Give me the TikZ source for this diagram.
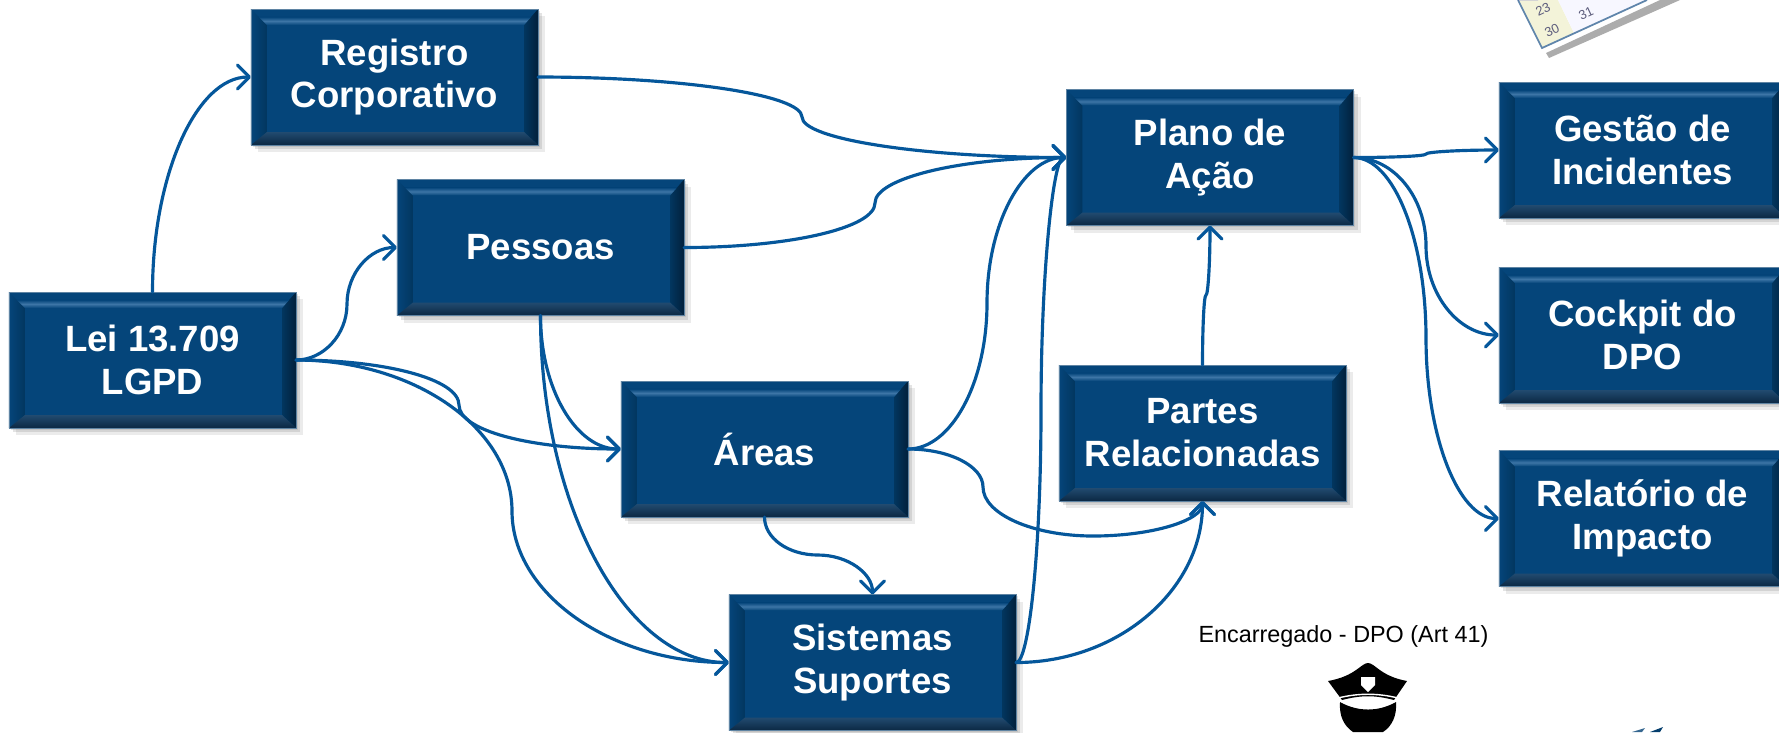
\documentclass[tikz,border=0pt]{standalone}
\usepackage{fontspec}
\setmainfont{Liberation Sans}
\usetikzlibrary{arrows.meta,calc,shadows}
\definecolor{boxblue}{HTML}{05457A}
\definecolor{boxlight}{HTML}{3D75A6}
\definecolor{boxleft}{HTML}{02365F}
\definecolor{boxright}{HTML}{02203B}
\definecolor{boxlow}{HTML}{0B2843}
\definecolor{boxedge}{HTML}{5F84A3}
\definecolor{linkblue}{HTML}{05579B}
\definecolor{calcream}{HTML}{F3F3D9}
\definecolor{caledge}{HTML}{5F85AB}
\definecolor{calnum}{HTML}{5C5C7C}
\tikzset{
   bevel/.code={},
   box/.style={rectangle, inner sep=0pt, outer sep=0pt, minimum width=2.87cm, minimum height=1.36cm,
      fill=boxblue, draw=boxedge, line width=.2pt, text=white, align=center,
      font=\bfseries\fontsize{10.4}{12.2}\selectfont,
      drop shadow={shadow xshift=.5pt, shadow yshift=-.5pt, opacity=.22},
      drop shadow={shadow xshift=1.2pt, shadow yshift=-1.2pt, opacity=.22},
      drop shadow={shadow xshift=2.1pt, shadow yshift=-2.1pt, opacity=.16},
      path picture={
         \coordinate (bnw) at (path picture bounding box.north west);
         \coordinate (bne) at (path picture bounding box.north east);
         \coordinate (bse) at (path picture bounding box.south east);
         \coordinate (bsw) at (path picture bounding box.south west);
         \coordinate (inw) at ($(bnw)+(.16cm,-.16cm)$);
         \coordinate (ine) at ($(bne)+(-.14cm,-.16cm)$);
         \coordinate (ise) at ($(bse)+(-.14cm,.13cm)$);
         \coordinate (isw) at ($(bsw)+(.16cm,.13cm)$);
         \shade[left color=boxblue, right color=boxleft] (bnw) -- (inw) -- (isw) -- (bsw) -- cycle;
         \shade[left color=boxleft, right color=boxright] (bne) -- (ine) -- (ise) -- (bse) -- cycle;
         \shade[top color=boxlight!45!boxlow, bottom color=boxlow] (bsw) -- (isw) -- (ise) -- (bse) -- cycle;
         \shade[top color=boxblue, bottom color=boxblue, middle color=boxlight]
            ($(bnw)+(.08cm,-.08cm)$) -- (inw) -- (ine) -- ($(bne)+(-.07cm,-.08cm)$) -- cycle;
      }},
   link/.style={draw=linkblue, line width=.9pt, line cap=round, line join=round,
      -{Straight Barb[length=3.4pt,width=6.8pt,round]}},
   dpotext/.style={font=\fontsize{6.65}{8}\selectfont, text=black, inner sep=0pt},
   calday/.style={font=\fontsize{3.7}{4.4}\selectfont, text=calnum, inner sep=0pt, rotate=25}
}
\begin{document}
\begin{tikzpicture}[x=.01cm, y=-.01cm]

   \useasboundingbox (0,0) rectangle (1779,732);
   \clip (0,0) rectangle (1779,732);

   % calendar corner
   \fill[gray!65] (1546,53) -- (1660,0) -- (1680,0) -- (1549,58) -- cycle;
   \fill[calcream] (1518,0) -- (1542,48) -- (1574,33) -- (1558,0) -- cycle;
   \fill[white!97!blue] (1558,0) -- (1574,33) -- (1647,0) -- cycle;
   \draw[caledge, line width=.5pt] (1518,0) -- (1542,48) -- (1647,0);
   \fill[blue!75!black] (1518,0) arc[start angle=180, end angle=360, x radius=10, y radius=3];
   \node[calday] (day23) at (1543,9) {23};
   \node[calday] (day30) at (1552,30) {30};
   \node[calday] (day31) at (1586,13) {31};

   % boxes
   \node[box] (lei) at (152.5,360) {Lei 13.709\\LGPD};
   \node[box] (registro) at (394.5,77) {Registro\\Corporativo};
   \node[box] (pessoas) at (540.5,247.5) {Pessoas};
   \node[box] (areas) at (764.5,449) {Áreas};
   \node[box] (sistemas) at (872.5,662.5) {Sistemas\\Suportes};
   \node[box] (plano) at (1210,157.5) {Plano de\\Ação};
   \node[box] (partes) at (1202.5,433) {Partes\\Relacionadas};
   \node[box] (gestao) at (1642.5,150) {Gestão de\\Incidentes};
   \node[box] (cockpit) at (1642.5,335) {Cockpit do\\DPO};
   \node[box] (relatorio) at (1642.5,518.5) {Relatório de\\Impacto};

   % links
   \draw[link] (lei.north) .. controls +(0,-118) and +(-54,0) .. (registro.west);
   \draw[link] (lei.east) .. controls +(27,0) and +(0,31) .. (347,304) .. controls +(0,-31) and +(-27,0) .. (pessoas.west);
   \draw[link] (lei.east) .. controls +(89,0) and +(0,-26) .. (459,405) .. controls +(0,26) and +(-89,0) .. (areas.west);
   \draw[link] (lei.east) .. controls +(118,0) and +(0,-83) .. (512,511) .. controls +(0,83) and +(-118,0) .. (sistemas.west);
   \draw[link] (registro.east) .. controls +(145,0) and +(0,-22) .. (802,117) .. controls +(0,22) and +(-145,0) .. (plano.west);
   \draw[link] (pessoas.east) .. controls +(105,0) and +(0,25) .. (875,203) .. controls +(0,-25) and +(-105,0) .. (plano.west);
   \draw[link] (pessoas.south) .. controls +(0,73) and +(-45,0) .. (areas.west);
   \draw[link] (pessoas.south) .. controls +(0,190) and +(-103,0) .. (sistemas.west);
   \draw[link] (areas.east) .. controls +(43,0) and +(0,80) .. (987,303) .. controls +(0,-80) and +(-43,0) .. (plano.west);
   \draw[link] (areas.east) .. controls +(41,0) and +(0,-21) .. (983,487) .. controls +(0,27) and +(-60,0) .. (1093,536) .. controls +(60,0) and +(0,19) .. (partes.south);
   \draw[link] (areas.south) .. controls +(0,21) and +(-30,0) .. (818,555) .. controls +(30,0) and +(0,-21) .. (sistemas.north);
   \draw[link] (sistemas.east) .. controls +(13,0) and +(0,139) .. (1041,410) .. controls +(0,-139) and +(-13,0) .. (plano.west);
   \draw[link] (sistemas.east) .. controls +(102,0) and +(0,89) .. (partes.south);
   \draw[link] (partes.north) .. controls +(0,-38) and +(-2,0) .. (1206,295) .. controls +(2,0) and +(0,38) .. (plano.south);
   \draw[link] (plano.east) .. controls +(40,0) and +(0,2) .. (1426,154) .. controls +(0,-2) and +(-40,0) .. (gestao.west);
   \draw[link] (plano.east) .. controls +(40,0) and +(0,-49) .. (1426,246) .. controls +(0,49) and +(-40,0) .. (cockpit.west);
   \draw[link] (plano.east) .. controls +(40,0) and +(0,-99) .. (1426,338) .. controls +(0,99) and +(-40,0) .. (relatorio.west);

   % encarregado
   \node[dpotext] (dpo) at (1343.5,636) {Encarregado - DPO (Art 41)};
   \fill[black] (1368,663) .. controls (1375,663) and (1380,676) .. (1407,681) -- (1394,700) .. controls (1375,695) and (1361,695) .. (1342,700) -- (1328,681) .. controls (1356,676) and (1361,663) .. (1368,663) -- cycle;
   \fill[black] (1340,702) .. controls (1358,712) and (1378,712) .. (1396,702) .. controls (1397,716) and (1392,726) .. (1383,732) -- (1353,732) .. controls (1344,726) and (1339,716) .. (1340,702) -- cycle;
   \draw[white, line width=.4pt] (1338,698) .. controls (1358,693) and (1378,693) .. (1398,698);
   \draw[white, line width=.4pt] (1339,700) .. controls (1358,711) and (1378,711) .. (1397,700);
   \fill[white] (1361,677) -- (1375,677) -- (1375,685) -- (1368,692) -- (1361,685) -- cycle;

   % logo corner
   \fill[linkblue!60!gray] (1632,732) -- (1645,728) -- (1642,732) -- cycle;
   \fill[linkblue!70!black] (1650,732) -- (1663,727) -- (1660,732) -- cycle;

\end{tikzpicture}
\end{document}
